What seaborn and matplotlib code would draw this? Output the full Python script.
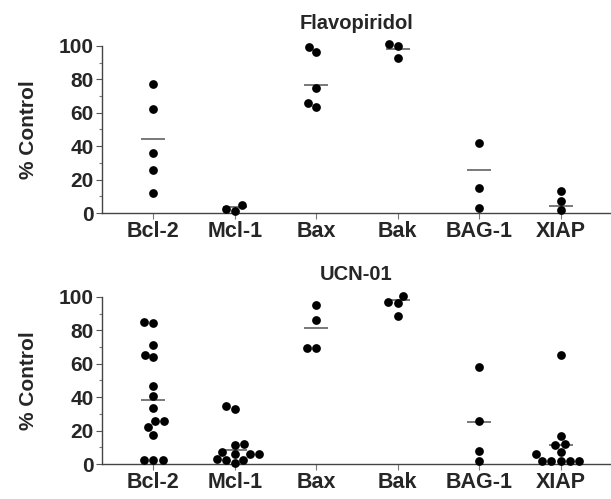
import numpy as np
import pandas as pd
import matplotlib
matplotlib.use("Agg")
import matplotlib.pyplot as plt
from matplotlib.ticker import MultipleLocator
import seaborn as sns

# proteins on the x axis
proteins = ["Bcl-2", "Mcl-1", "Bax", "Bak", "BAG-1", "XIAP"]

# Flavopiridol, % control per sample
flavo_bcl2 = [77, 62, 36, 26, 12]
flavo_mcl1 = [2.6, 4.6, 1.4]
flavo_bax = [99.6, 96.4, 74.7, 65.7, 63.2]
flavo_bak = [101, 100, 93]
flavo_bag1 = [42, 15, 3]
flavo_xiap = [13, 7.3, 2]
flavo_lines = [44.4, 3.6, 76.4, 98.2, 26, 4.4]

# UCN-01, % control per sample
ucn_bcl2 = [85, 84.6, 71, 65.5, 64, 46.7, 41, 33.3, 25.7, 25.5, 22, 17.6, 2.6, 2.6, 2.6]
ucn_mcl1 = [35, 33, 12, 11.5, 7.3, 6.3, 6.3, 5.9, 2.9, 2.7, 2.7, 0.6]
ucn_bax = [95.4, 86, 69.5, 69.3]
ucn_bak = [100.8, 96.6, 96.8, 88.6]
ucn_bag1 = [57.8, 26, 7.6, 2]
ucn_xiap = [65, 17, 12, 11.4, 7.4, 6, 2, 2, 2, 2, 2]
ucn_lines = [38.2, 8.5, 81.3, 98.2, 25.1, 11.3]


def to_frame(groups):
    rows = []
    for name, vals in zip(proteins, groups):
        for v in vals:
            rows.append({"protein": name, "value": v})
    return pd.DataFrame(rows)


flavo_df = to_frame([flavo_bcl2, flavo_mcl1, flavo_bax, flavo_bak, flavo_bag1, flavo_xiap])
ucn_df = to_frame([ucn_bcl2, ucn_mcl1, ucn_bax, ucn_bak, ucn_bag1, ucn_xiap])

sns.set_style("ticks")
plt.rcParams["font.family"] = ["Liberation Sans", "DejaVu Sans"]
plt.rcParams["font.weight"] = "bold"

fig = plt.figure(figsize=(6.11, 4.99), dpi=100)
ax_top = fig.add_axes([0.167, 0.573, 0.833, 0.335])
ax_bot = fig.add_axes([0.167, 0.070, 0.833, 0.335])

panels = [(ax_top, flavo_df, flavo_lines, "Flavopiridol"),
          (ax_bot, ucn_df, ucn_lines, "UCN-01")]

for ax, df, lines, title in panels:
    sns.swarmplot(data=df, x="protein", y="value", order=proteins,
                  color="black", size=6.3, ax=ax)
    for coll in ax.collections:
        coll.set_clip_on(False)
    # summary line per group
    sns.pointplot(x=proteins, y=lines, order=proteins, linestyle="none",
                  marker="_", markersize=17, markeredgewidth=1.1,
                  color="#555555", errorbar=None, ax=ax)
    for ln in ax.lines:
        ln.set_clip_on(False)

    ax.set_xlim(-0.63, 5.62)
    ax.set_ylim(0, 100)
    ax.yaxis.set_major_locator(MultipleLocator(20))
    ax.yaxis.set_minor_locator(MultipleLocator(10))
    ax.set_xlabel("")
    ax.set_ylabel("% Control", fontsize=15, fontweight="bold", labelpad=15)
    ax.set_title(title, fontsize=14.5, fontweight="bold", pad=12)

    for side in ["top", "right"]:
        ax.spines[side].set_visible(False)
    for side in ["left", "bottom"]:
        ax.spines[side].set_color("#444444")
        ax.spines[side].set_linewidth(1.0)
    ax.tick_params(axis="y", which="major", length=4, width=0.8, color="#555555",
                   labelsize=15, pad=2)
    ax.tick_params(axis="y", which="minor", length=2.5, width=0.8, color="#777777")
    ax.tick_params(axis="x", length=4, width=0.8, color="#777777",
                   labelsize=15.5, pad=2)
    for lab in ax.get_xticklabels() + ax.get_yticklabels():
        lab.set_fontweight("bold")

fig.savefig("out.png", dpi=100)
